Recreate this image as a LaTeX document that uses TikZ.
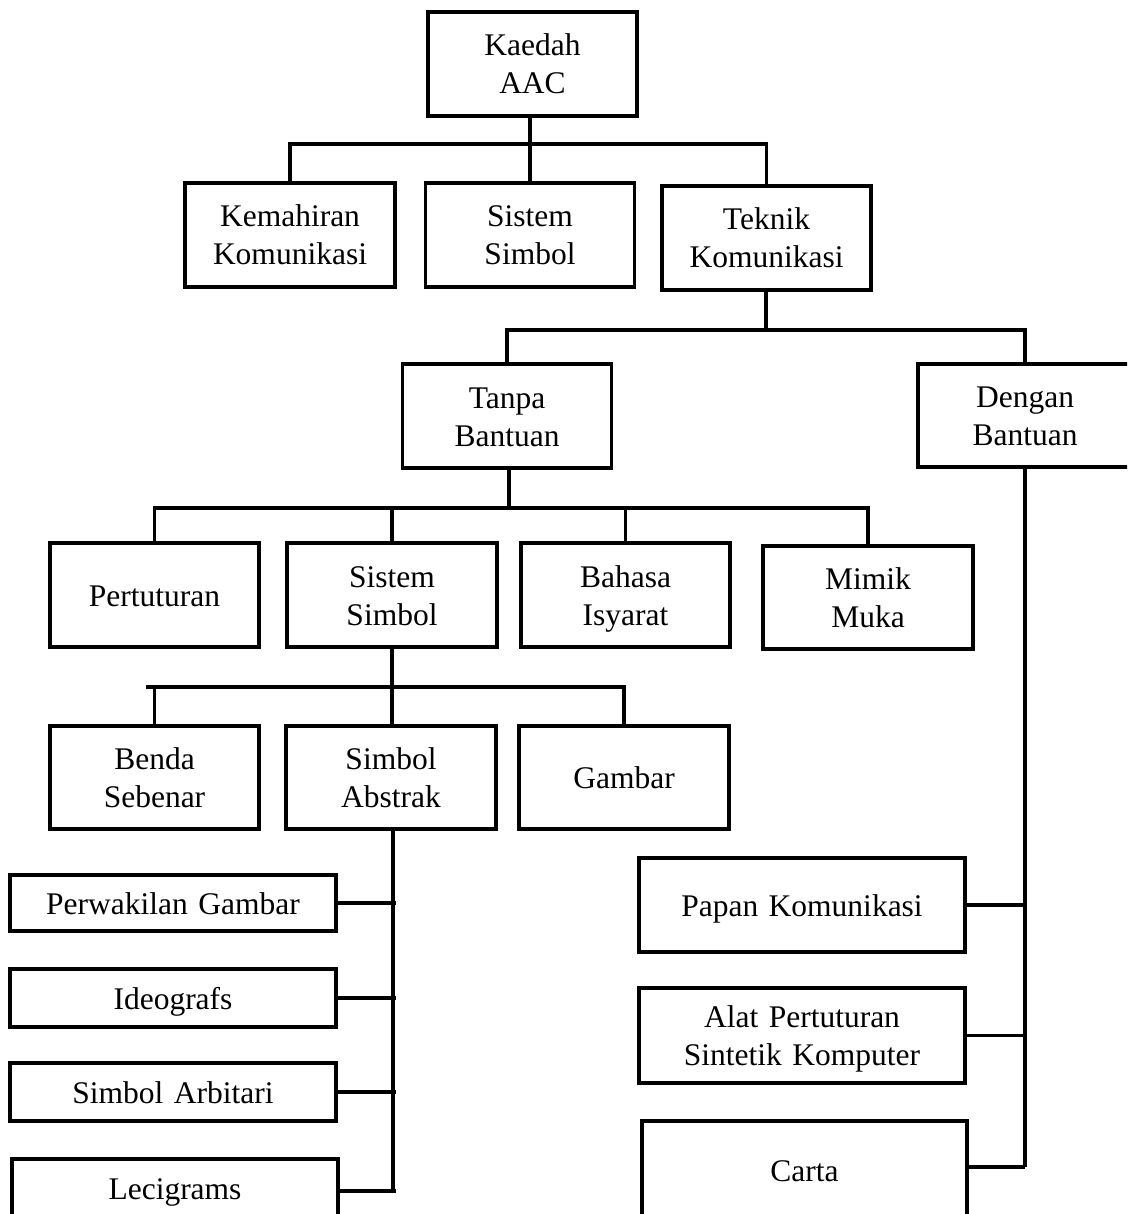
\documentclass[tikz,border=0pt]{standalone}
\usepackage{fontspec}
\setmainfont{Liberation Serif}
\newcommand\mystrut{\rule[-8pt]{0pt}{38pt}}
\begin{document}
\begin{tikzpicture}[x=1pt,y=-1pt,
  bx/.style={draw, line width=3.2pt, rectangle, inner sep=0pt, align=center,
    text width=190pt, font=\fontsize{31.5}{38}\selectfont,
    execute at begin node=\mystrut, execute at end node=\mystrut},
  wide/.style={text width=310pt},
  ln/.style={draw, line width=3.2pt}]
\useasboundingbox (0,0) rectangle (1127,1214);
\clip (0,0) rectangle (1127,1214);
% level 0
\node[bx, minimum width=209, minimum height=104] (kaedah) at (532.5,64) {Kaedah\\AAC};
% level 1
\node[bx, minimum width=210, minimum height=104] (kem) at (290,235) {Kemahiran\\Komunikasi};
\node[bx, minimum width=209, minimum height=104] (sis1) at (530,235) {Sistem\\Simbol};
\node[bx, minimum width=209, minimum height=104] (tek) at (766.5,238) {Teknik\\Komunikasi};
% level 2
\node[bx, minimum width=209, minimum height=104] (tanpa) at (507,416) {Tanpa\\Bantuan};
\node[bx, minimum width=214, minimum height=103] (dengan) at (1025,415.5) {Dengan\\Bantuan};
% level 3
\node[bx, minimum width=209, minimum height=104] (pert) at (154.5,595) {Pertuturan};
\node[bx, minimum width=210, minimum height=104] (sis2) at (392,595) {Sistem\\Simbol};
\node[bx, minimum width=209, minimum height=104] (bah) at (625.5,595) {Bahasa\\Isyarat};
\node[bx, minimum width=210, minimum height=103] (mim) at (868,597.5) {Mimik\\Muka};
% level 4
\node[bx, minimum width=209, minimum height=103] (benda) at (154.5,777.5) {Benda\\Sebenar};
\node[bx, minimum width=210, minimum height=103] (abs) at (391,777.5) {Simbol\\Abstrak};
\node[bx, minimum width=210, minimum height=103] (gam) at (624,777.5) {Gambar};
% left list
\node[bx, wide, minimum width=326, minimum height=56] (perw) at (173,903) {Perwakilan Gambar};
\node[bx, wide, minimum width=326, minimum height=58] (ideo) at (173,998) {Ideografs};
\node[bx, wide, minimum width=326, minimum height=58] (arb) at (173,1092) {Simbol Arbitari};
\node[bx, wide, minimum width=326, minimum height=58] (leci) at (175,1188) {Lecigrams};
% right list
\node[bx, wide, minimum width=326, minimum height=94] (papan) at (802,905) {Papan Komunikasi};
\node[bx, wide, minimum width=326, minimum height=95] (alat) at (802,1035.5) {Alat Pertuturan\\Sintetik Komputer};
\node[bx, wide, minimum width=325, minimum height=98] (carta) at (804.5,1170) {Carta};
% junctions
\coordinate (j1) at (530,144);
\coordinate (j2) at (766,330);
\coordinate (j3) at (509,508);
\coordinate (j3r) at (870,508);
\coordinate (j4) at (392,687);
\coordinate (j4l) at (146,687);
\coordinate (v1) at (393,1191);
\coordinate (v2) at (1025,1167);
% connectors level 0 -> 1
\draw[ln] (kaedah.south -| j1) -- (j1);
\draw[ln] (kem.north) |- (j1) -| (tek.north);
\draw[ln] (sis1.north) -- (sis1.north |- j1);
% level 1 -> 2
\draw[ln] (tek.south -| j2) -- (j2);
\draw[ln] (tanpa.north) |- (j2) -| (dengan.north);
% level 2 -> 3
\draw[ln] (tanpa.south -| j3) -- (j3);
\draw[ln] (pert.north) |- (j3r);
\draw[ln] (mim.north) -- (mim.north |- j3r);
\draw[ln] (sis2.north) -- (sis2.north |- j3);
\draw[ln] (bah.north) -- (bah.north |- j3);
% level 3 -> 4
\draw[ln] (sis2.south) -- (j4);
\draw[ln] (j4l) -| (gam.north);
\draw[ln] (benda.north) -- (benda.north |- j4);
\draw[ln] (abs.north -| j4) -- (j4);
% Simbol Abstrak list
\draw[ln] (abs.south -| v1) -- (v1);
\draw[ln] (perw.east) -- (perw.east -| 396,0);
\draw[ln] (ideo.east) -- (ideo.east -| 396,0);
\draw[ln] (arb.east) -- (arb.east -| 396,0);
\draw[ln] (leci.east |- v1) -- (v1) -- ++(3,0);
% Dengan Bantuan list
\draw[ln] (dengan.south -| v2) -- (v2);
\draw[ln] (papan.east) -- (papan.east -| v2);
\draw[ln] (alat.east) -- (alat.east -| v2);
\draw[ln] (carta.east |- v2) -- (v2);
\end{tikzpicture}
\end{document}
